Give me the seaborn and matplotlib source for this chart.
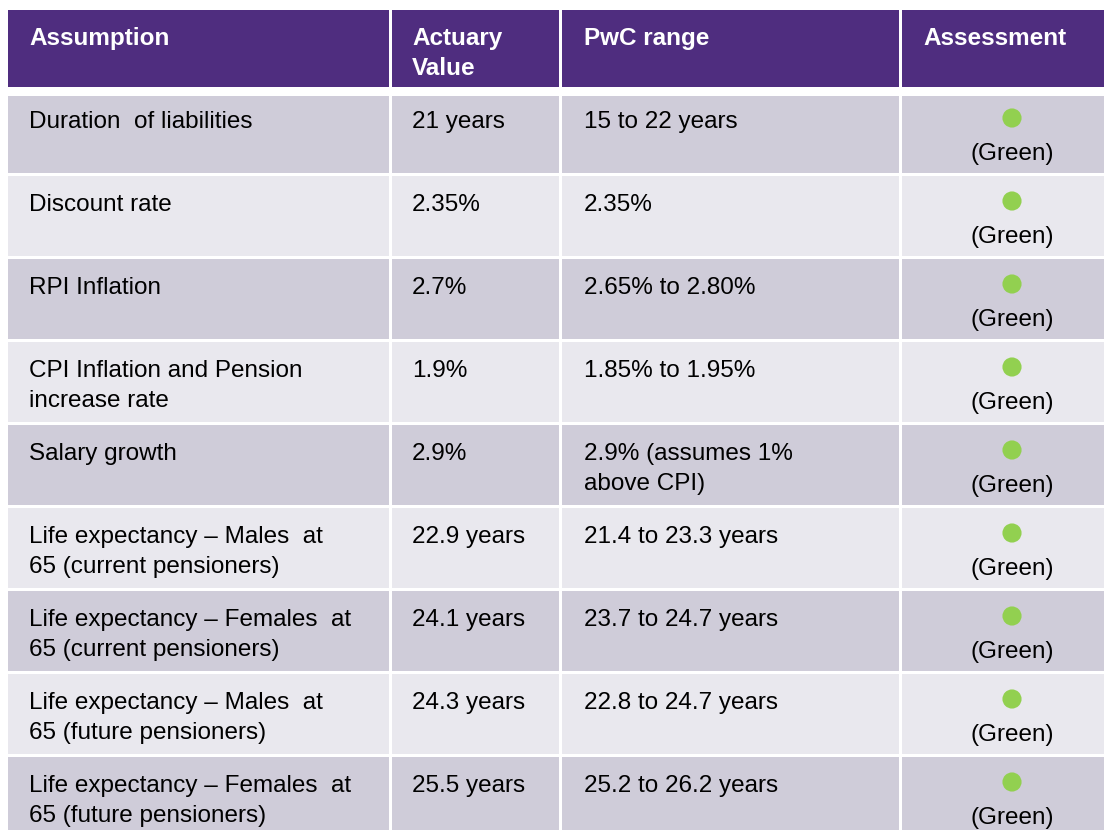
# Tabla de supuestos actuariales
import pandas as pd
import matplotlib.pyplot as plt
import matplotlib.patches as mpatches
import seaborn as sns

# Datos de la tabla
headers = ["Assumption", "Actuary\nValue", "PwC range", "Assessment"]
assumptions = [
    "Duration  of liabilities",
    "Discount rate",
    "RPI Inflation",
    "CPI Inflation and Pension\nincrease rate",
    "Salary growth",
    "Life expectancy \u2013 Males  at\n65 (current pensioners)",
    "Life expectancy \u2013 Females  at\n65 (current pensioners)",
    "Life expectancy \u2013 Males  at\n65 (future pensioners)",
    "Life expectancy \u2013 Females  at\n65 (future pensioners)",
]
actuary_values = ["21 years", "2.35%", "2.7%", "1.9%", "2.9%",
                  "22.9 years", "24.1 years", "24.3 years", "25.5 years"]
pwc_ranges = ["15 to 22 years", "2.35%", "2.65% to 2.80%", "1.85% to 1.95%",
              "2.9% (assumes 1%\nabove CPI)", "21.4 to 23.3 years",
              "23.7 to 24.7 years", "22.8 to 24.7 years", "25.2 to 26.2 years"]
assessments = ["Green"] * 9

df = pd.DataFrame({"assumption": assumptions, "actuary": actuary_values,
                   "pwc": pwc_ranges, "assessment": assessments})

# Colores y geometría (en píxeles)
purple = "#4F2D7F"
dark_row = "#CFCCD9"
light_row = "#E9E8EE"
status_colors = {"Green": "#92D050"}

col_left = [8, 392, 562, 902]
col_right = [389, 559, 899, 1104]
text_x = [29, 412, 584, 923]
header_top, header_bottom = 10, 87
row_pitch = 83
row_first = 93
row_h = 80
line_gap = 30
fs = 17.5

sns.set_theme(style="white")
plt.rcParams['font.family'] = ['Liberation Sans', 'DejaVu Sans']

fig = plt.figure(figsize=(11.04, 8.30), dpi=100)
ax = fig.add_axes([0, 0, 1, 1])
ax.set_xlim(0, 1104)
ax.set_ylim(830, 0)
ax.axis('off')


def put_lines(x, base, txt, **kw):
    for k, line in enumerate(txt.split("\n")):
        ax.text(x, base + k * line_gap, line, va='baseline', ha='left',
                fontsize=fs, **kw)


# Encabezado
for j, h in enumerate(headers):
    ax.add_patch(mpatches.Rectangle((col_left[j], header_top), col_right[j] - col_left[j],
                                    header_bottom - header_top, color=purple, lw=0))
    put_lines(text_x[j], 45, h, color='white', fontweight='bold')

# Filas
dot_x, dot_y, dot_c = [], [], []
for i, row in df.iterrows():
    top = row_first + i * row_pitch
    cell_top = max(top, 96)
    bg = dark_row if i % 2 == 0 else light_row
    for j in range(4):
        ax.add_patch(mpatches.Rectangle((col_left[j], cell_top), col_right[j] - col_left[j],
                                        top + row_h - cell_top, color=bg, lw=0))
    base = top + 35
    put_lines(text_x[0], base, row["assumption"], color='black')
    put_lines(text_x[1], base, row["actuary"], color='black')
    put_lines(text_x[2], base, row["pwc"], color='black')
    ax.text(1012, top + 67, "(" + row["assessment"] + ")", va='baseline', ha='center',
            fontsize=fs, color='black')
    dot_x.append(1012)
    dot_y.append(top + 25)
    dot_c.append(row["assessment"])

dots = pd.DataFrame({"x": dot_x, "y": dot_y, "status": dot_c})
sns.scatterplot(data=dots, x="x", y="y", hue="status", palette=status_colors,
                s=190, linewidth=0, legend=False, ax=ax, zorder=5)
ax.set_xlim(0, 1104)
ax.set_ylim(830, 0)
ax.axis('off')

fig.savefig("out.png", dpi=100)
